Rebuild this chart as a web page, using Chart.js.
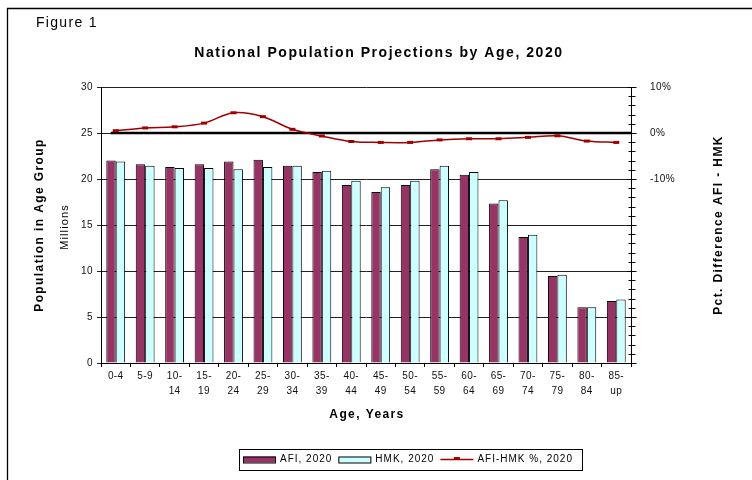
<!DOCTYPE html>
<html>
<head>
<meta charset="utf-8">
<title>National Population Projections by Age, 2020</title>
<script src="https://cdn.jsdelivr.net/npm/chart.js@4.4.0/dist/chart.umd.min.js"></script>
<style>
  html, body { margin: 0; padding: 0; background: #fff; }
  #wrap { width: 752px; height: 480px; }
</style>
</head>
<body>
<div id="wrap"><canvas id="popChart" width="752" height="480"></canvas></div>
<script>
// Age groups and projected population (millions) for 2020
const ageGroups = ["0-4", "5-9", "10-14", "15-19", "20-24", "25-29", "30-34", "35-39", "40-44",
  "45-49", "50-54", "55-59", "60-64", "65-69", "70-74", "75-79", "80-84", "85-up"];
const afi2020 = [22.0, 21.6, 21.3, 21.6, 21.9, 22.1, 21.45, 20.75, 19.35,
  18.6, 19.35, 21.05, 20.45, 17.35, 13.7, 9.45, 6.05, 6.75];
const hmk2020 = [21.9, 21.45, 21.2, 21.2, 21.05, 21.3, 21.45, 20.9, 19.8,
  19.1, 19.8, 21.45, 20.75, 17.7, 13.95, 9.6, 6.05, 6.9];
// AFI vs HMK difference in percent (right axis)
const pctDiff = [0.5, 1.1, 1.35, 2.15, 4.4, 3.55, 0.8, -0.65, -1.85,
  -2.05, -2.05, -1.5, -1.25, -1.25, -0.95, -0.6, -1.75, -2.05];
// only these right-axis values get a label
const pctLabelled = [10, 0, -10];

const FONT = '"Liberation Sans", Arial, sans-serif';
Chart.defaults.font.family = FONT;
Chart.defaults.color = "#111";

// tick text is drawn a touch wider than plain canvas text
const textSpacing = {
  id: "textSpacing",
  beforeUpdate(chart) { chart.ctx.letterSpacing = "0.4px"; },
  beforeDraw(chart) { chart.ctx.letterSpacing = "0.4px"; }
};

// white page with the figure frame
const frame = {
  id: "frame",
  beforeDraw(chart) {
    const ctx = chart.ctx;
    ctx.save();
    ctx.fillStyle = "#fff";
    ctx.fillRect(0, 0, chart.width, chart.height);
    ctx.strokeStyle = "#000";
    ctx.lineWidth = 1.3;
    ctx.beginPath();
    ctx.moveTo(7.5, chart.height + 5);
    ctx.lineTo(7.5, 8.5);
    ctx.lineTo(chart.width + 5, 8.5);
    ctx.stroke();
    ctx.restore();
  }
};

// heavy reference line at 0% on the right axis
const zeroLine = {
  id: "zeroLine",
  beforeDatasetsDraw(chart) {
    const { ctx, chartArea, scales } = chart;
    const yy = scales.y1.getPixelForValue(0);
    ctx.save();
    ctx.strokeStyle = "#000";
    ctx.lineWidth = 2.5;
    ctx.beginPath();
    ctx.moveTo(scales.x.getPixelForValue(0) - 5, yy);
    ctx.lineTo(chartArea.right, yy);
    ctx.stroke();
    ctx.restore();
  }
};

// right axis tick marks cross the axis line
const crossTicks = {
  id: "crossTicks",
  afterDraw(chart) {
    const { ctx, scales } = chart;
    const y1 = scales.y1;
    const ax = Math.round(y1.left) + 0.5;
    ctx.save();
    ctx.strokeStyle = "#000";
    ctx.lineWidth = 1;
    y1.ticks.forEach((t) => {
      const py = Math.round(y1.getPixelForValue(t.value)) + 0.5;
      const half = t.value % 10 === 0 ? 4 : 3;
      ctx.beginPath();
      ctx.moveTo(ax - half, py);
      ctx.lineTo(ax + half + 1, py);
      ctx.stroke();
    });
    ctx.restore();
  }
};

function rotatedText(ctx, text, x, y) {
  ctx.save();
  ctx.translate(x, y);
  ctx.rotate(-Math.PI / 2);
  ctx.fillText(text, 0, 0);
  ctx.restore();
}

// figure label, titles, axis captions and legend
const captions = {
  id: "captions",
  afterDraw(chart) {
    const { ctx, chartArea } = chart;
    const midY = (chartArea.top + chartArea.bottom) / 2;
    const midX = (chartArea.left + chartArea.right) / 2;
    ctx.save();
    ctx.fillStyle = "#000";

    ctx.letterSpacing = "1.3px";
    ctx.font = "14px " + FONT;
    ctx.textAlign = "left";
    ctx.textBaseline = "alphabetic";
    ctx.fillText("Figure 1", 36, 26.5);

    ctx.letterSpacing = "1.55px";
    ctx.font = "bold 14px " + FONT;
    ctx.textAlign = "center";
    ctx.textBaseline = "middle";
    ctx.fillText("National Population Projections by Age, 2020", 379, 53);

    ctx.letterSpacing = "1.4px";
    ctx.font = "bold 12px " + FONT;
    rotatedText(ctx, "Population in Age Group", 40, midY);
    rotatedText(ctx, "Pct. Difference AFI - HMK", 719, midY);
    ctx.fillText("Age, Years", midX + 1, 415);

    ctx.letterSpacing = "1.1px";
    ctx.font = "11px " + FONT;
    rotatedText(ctx, "Millions", 65, midY + 2);

    // legend
    ctx.letterSpacing = "1px";
    ctx.font = "10px " + FONT;
    ctx.textAlign = "left";
    const ly = 459.5;
    let lx = 243;
    chart.data.datasets.forEach((ds) => {
      if (ds.type === "line") {
        ctx.strokeStyle = ds.borderColor;
        ctx.lineWidth = ds.borderWidth;
        ctx.beginPath();
        ctx.moveTo(lx, ly);
        ctx.lineTo(lx + 33, ly);
        ctx.stroke();
        ctx.lineWidth = ds.pointBorderWidth;
        ctx.beginPath();
        ctx.moveTo(lx + 16.5 - ds.pointRadius, ly - 1);
        ctx.lineTo(lx + 16.5 + ds.pointRadius, ly - 1);
        ctx.stroke();
      } else {
        ctx.fillStyle = ds.backgroundColor;
        ctx.fillRect(lx, ly - 3, 33, 6);
        ctx.strokeStyle = "#000";
        ctx.lineWidth = 1;
        ctx.strokeRect(lx + 0.5, ly - 3 + 0.5, 32, 6);
      }
      lx += 37;
      ctx.fillStyle = "#000";
      ctx.fillText(ds.label, lx, ly);
      lx += ctx.measureText(ds.label).width + 6;
    });
    ctx.strokeStyle = "#000";
    ctx.lineWidth = 1;
    ctx.strokeRect(239.5, 449.5, lx - 239 + 3, 21);
    ctx.restore();
  }
};

new Chart(document.getElementById("popChart"), {
  data: {
    labels: ageGroups,
    datasets: [
      {
        type: "bar",
        label: "AFI, 2020",
        data: afi2020,
        backgroundColor: "#993366",
        borderColor: "#000",
        borderWidth: 1,
        categoryPercentage: 0.64,
        barPercentage: 1.0,
        yAxisID: "y",
        order: 1
      },
      {
        type: "bar",
        label: "HMK, 2020",
        data: hmk2020,
        backgroundColor: "#ccffff",
        borderColor: "#000",
        borderWidth: 1,
        categoryPercentage: 0.64,
        barPercentage: 1.0,
        yAxisID: "y",
        order: 2
      },
      {
        type: "line",
        label: "AFI-HMK %, 2020",
        data: pctDiff,
        borderColor: "#a00000",
        borderWidth: 1.5,
        tension: 0.35,
        pointStyle: "line",
        pointRadius: 3,
        pointBorderWidth: 3,
        pointBorderColor: "#a00000",
        yAxisID: "y1",
        order: 0
      }
    ]
  },
  options: {
    responsive: false,
    animation: false,
    devicePixelRatio: 1,
    layout: { padding: { top: 87, left: 0, right: 0, bottom: 55 } },
    plugins: {
      legend: { display: false },
      tooltip: { enabled: false },
      title: { display: false }
    },
    scales: {
      x: {
        offset: true,
        grid: { display: true, drawOnChartArea: false, offset: true, tickLength: 4, color: "#000" },
        border: { display: true, color: "#000", width: 1 },
        ticks: {
          font: { size: 10, lineHeight: 1.5 },
          padding: 1.5,
          maxRotation: 0,
          autoSkip: false,
          callback(value) {
            const s = ageGroups[value];
            if (s.length <= 3) return s;
            const i = s.indexOf("-");
            return [s.slice(0, i + 1), s.slice(i + 1)];
          }
        },
        afterFit(scale) { scale.height = 62; }
      },
      y: {
        position: "left",
        min: 0,
        max: 30,
        grid: { color: "#222", lineWidth: 1, tickLength: 4 },
        border: { display: true, color: "#000", width: 1 },
        ticks: { stepSize: 5, font: { size: 10 }, padding: 4 },
        afterFit(scale) { scale.width = 101; }
      },
      y1: {
        position: "right",
        min: -50,
        max: 10,
        grid: { display: false },
        border: { display: true, color: "#000", width: 1 },
        ticks: {
          stepSize: 2,
          autoSkip: false,
          maxTicksLimit: 100,
          font: { size: 10 },
          padding: 11,
          callback(value) {
            return pctLabelled.includes(value) ? value + "%" : "";
          }
        },
        afterFit(scale) { scale.width = 121; }
      }
    }
  },
  plugins: [textSpacing, frame, zeroLine, crossTicks, captions]
});
</script>
</body>
</html>
